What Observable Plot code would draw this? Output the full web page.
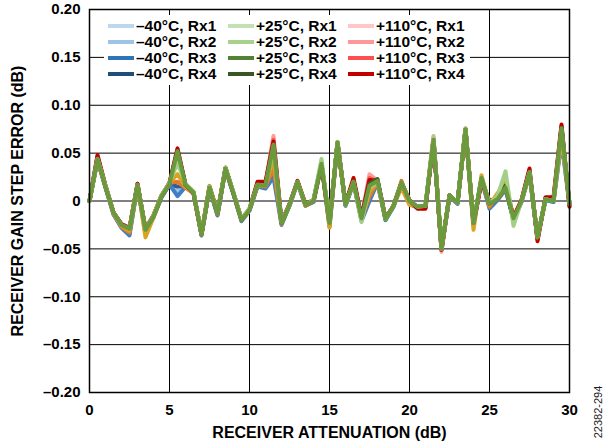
<!DOCTYPE html>
<html><head><meta charset="utf-8">
<script src="https://cdn.jsdelivr.net/npm/d3@7"></script>
<script src="https://cdn.jsdelivr.net/npm/@observablehq/plot@0.6"></script>
<style>
body{margin:0;background:#fff;font-family:"Liberation Sans",Arial,sans-serif;}
#wrap{position:relative;width:610px;height:446px;}
#legend{position:absolute;left:104px;top:15px;width:366px;height:70px;background:#fff;box-sizing:border-box;padding:3px 0 0 4px;
  display:grid;grid-template-columns:120px 120px 120px;grid-auto-rows:16px;grid-auto-flow:column;grid-template-rows:repeat(4,16px);}
.item{display:flex;align-items:center;font-weight:bold;font-size:15.5px;color:#000;white-space:nowrap;line-height:16px;}
.sw{width:26px;height:4px;margin-right:2px;flex:none;}
#code{position:absolute;left:598px;top:412px;transform:translate(-50%,-50%) rotate(-90deg);font-size:11px;color:#222;white-space:nowrap;}
</style></head>
<body><div id="wrap"><div id="chart"></div><div id="legend"></div><div id="code">22382-294</div></div>
<script>
const attenuation = [0,0.5,1,1.5,2,2.5,3,3.5,4,4.5,5,5.5,6,6.5,7,7.5,8,8.5,9,9.5,10,10.5,11,11.5,12,12.5,13,13.5,14,14.5,15,15.5,16,16.5,17,17.5,18,18.5,19,19.5,20,20.5,21,21.5,22,22.5,23,23.5,24,24.5,25,25.5,26,26.5,27,27.5,28,28.5,29,29.5,30];

const seriesNames = ["–40°C, Rx1","–40°C, Rx2","–40°C, Rx3","–40°C, Rx4","+25°C, Rx1","+25°C, Rx2","+25°C, Rx3","+25°C, Rx4","+110°C, Rx1","+110°C, Rx2","+110°C, Rx3","+110°C, Rx4"];
const legendColors = ["#bdd7ee","#9dc3e6","#2e75b6","#1f4e79","#c5e0b4","#a9d18e","#548235","#385723","#ffc7c7","#ff9999","#ff5050","#c00000"];
const plotColors = ["#9dc3e6","#3f7fc4","#e37a2b","#2f5f94","#d9a521","#a3cf86","#c5e0b4","#3d6128","#ff9c9c","#ff5a5a","#c00000","#6a9a3c"];
const drawOrder = [6,0,3,1,2,4,8,9,10,7,5,11];

const m40rx1 = [0.000,0.042,0.014,-0.014,-0.028,-0.035,0.016,-0.033,-0.017,0.004,
0.017,0.010,0.016,0.008,-0.036,0.013,-0.015,0.033,0.007,-0.021,
-0.010,0.016,0.014,0.030,-0.024,-0.005,0.019,-0.005,-0.001,0.038,
-0.026,0.060,-0.005,0.019,-0.020,0.003,0.019,-0.020,-0.006,0.018,
-0.002,-0.007,-0.006,0.063,-0.051,0.005,-0.003,0.074,-0.025,0.022,
-0.006,0.001,0.012,-0.019,-0.001,0.028,-0.039,0.001,-0.001,0.066,-0.004];
const m40rx2 = [0.000,0.043,0.014,-0.014,-0.028,-0.036,0.016,-0.034,-0.017,0.004,
0.017,0.005,0.015,0.008,-0.036,0.013,-0.015,0.033,0.007,-0.021,
-0.010,0.015,0.013,0.025,-0.025,-0.005,0.019,-0.005,-0.001,0.038,
-0.027,0.060,-0.005,0.019,-0.021,0.000,0.019,-0.020,-0.006,0.018,
-0.003,-0.007,-0.006,0.063,-0.051,0.005,-0.003,0.074,-0.026,0.022,
-0.008,0.001,0.012,-0.019,-0.001,0.028,-0.039,0.001,-0.001,0.062,-0.004];
const m40rx3 = [0.000,0.043,0.015,-0.013,-0.027,-0.033,0.016,-0.033,-0.016,0.005,
0.019,0.020,0.014,0.008,-0.035,0.014,-0.014,0.034,0.008,-0.020,
-0.009,0.016,0.015,0.035,-0.024,-0.004,0.020,-0.005,0.000,0.038,
-0.025,0.060,-0.004,0.020,-0.019,0.005,0.020,-0.019,-0.005,0.021,
-0.002,-0.006,-0.005,0.064,-0.050,0.006,-0.002,0.075,-0.024,0.023,
-0.006,0.006,0.015,-0.018,0.000,0.029,-0.038,0.002,0.000,0.070,-0.003];
const m40rx4 = [0.000,0.043,0.015,-0.013,-0.027,-0.032,0.016,-0.032,-0.016,0.004,
0.018,0.015,0.016,0.008,-0.035,0.014,-0.014,0.034,0.008,-0.020,
-0.009,0.016,0.015,0.040,-0.023,-0.004,0.020,-0.004,0.000,0.039,
-0.024,0.061,-0.004,0.020,-0.019,0.008,0.021,-0.019,-0.005,0.019,
-0.001,-0.006,-0.005,0.064,-0.050,0.006,-0.002,0.075,-0.024,0.023,
-0.005,0.003,0.013,-0.018,0.000,0.030,-0.038,0.002,0.000,0.072,-0.003];
const p25rx1 = [0.000,0.043,0.015,-0.013,-0.026,-0.031,0.017,-0.038,-0.017,0.005,
0.019,0.028,0.015,0.009,-0.034,0.016,-0.012,0.034,0.008,-0.020,
-0.009,0.016,0.017,0.045,-0.022,-0.004,0.020,-0.004,0.000,0.039,
-0.028,0.061,-0.004,0.020,-0.018,0.010,0.020,-0.019,-0.005,0.014,
-0.004,-0.006,-0.005,0.064,-0.050,0.006,-0.002,0.075,-0.030,0.027,
-0.004,0.008,0.020,-0.017,0.000,0.030,-0.038,0.002,0.000,0.066,-0.003];
const p25rx2 = [0.000,0.044,0.016,-0.012,-0.025,-0.029,0.017,-0.030,-0.015,0.006,
0.019,0.040,0.018,0.010,-0.034,0.015,-0.012,0.035,0.009,-0.019,
-0.008,0.017,0.016,0.055,-0.022,-0.004,0.020,-0.004,0.001,0.044,
-0.023,0.062,-0.004,0.020,-0.022,0.014,0.020,-0.019,-0.005,0.019,
0.000,-0.006,-0.005,0.067,-0.050,0.006,-0.002,0.076,-0.023,0.024,
-0.002,0.005,0.031,-0.026,0.000,0.030,-0.038,0.002,0.000,0.074,-0.003];
const p25rx3 = [0.000,0.044,0.015,-0.012,-0.025,-0.030,0.017,-0.031,-0.016,0.005,
0.018,0.048,0.017,0.009,-0.035,0.014,-0.013,0.034,0.008,-0.020,
-0.009,0.017,0.016,0.057,-0.023,-0.004,0.020,-0.004,0.000,0.040,
-0.023,0.061,-0.004,0.020,-0.019,0.015,0.021,-0.019,-0.005,0.019,
0.000,-0.006,-0.005,0.065,-0.050,0.006,-0.002,0.075,-0.023,0.024,
-0.003,0.003,0.020,-0.021,0.000,0.030,-0.038,0.002,0.000,0.075,-0.003];
const p25rx4 = [0.000,0.044,0.015,-0.012,-0.025,-0.029,0.017,-0.030,-0.016,0.005,
0.018,0.052,0.017,0.009,-0.035,0.014,-0.013,0.034,0.008,-0.020,
-0.009,0.017,0.016,0.058,-0.023,-0.004,0.020,-0.004,0.000,0.039,
-0.023,0.061,-0.004,0.020,-0.018,0.018,0.023,-0.019,-0.005,0.019,
0.000,-0.006,-0.005,0.064,-0.050,0.006,-0.002,0.075,-0.023,0.024,
-0.003,0.002,0.016,-0.021,0.000,0.030,-0.038,0.002,0.000,0.076,-0.003];
const p110rx1 = [0.000,0.047,0.016,-0.012,-0.025,-0.029,0.018,-0.030,-0.015,0.005,
0.018,0.050,0.017,0.009,-0.035,0.014,-0.013,0.034,0.008,-0.020,
-0.009,0.018,0.018,0.068,-0.022,-0.004,0.020,-0.004,0.000,0.039,
-0.023,0.062,-0.004,0.021,-0.017,0.028,0.021,-0.018,-0.005,0.019,
0.000,-0.006,-0.005,0.068,-0.053,0.006,-0.002,0.076,-0.023,0.022,
-0.002,0.002,0.014,-0.017,0.000,0.031,-0.039,0.003,0.001,0.078,-0.004];
const p110rx2 = [0.000,0.046,0.016,-0.012,-0.025,-0.029,0.018,-0.030,-0.015,0.005,
0.018,0.053,0.017,0.009,-0.035,0.014,-0.013,0.034,0.008,-0.020,
-0.009,0.019,0.019,0.064,-0.022,-0.004,0.020,-0.004,0.000,0.039,
-0.023,0.061,-0.004,0.022,-0.017,0.024,0.021,-0.018,-0.005,0.019,
0.000,-0.007,-0.007,0.065,-0.051,0.006,-0.002,0.075,-0.023,0.021,
-0.001,0.002,0.014,-0.017,0.001,0.032,-0.040,0.003,0.002,0.078,-0.005];
const p110rx3 = [0.000,0.048,0.016,-0.012,-0.024,-0.028,0.018,-0.029,-0.015,0.006,
0.019,0.055,0.017,0.009,-0.034,0.015,-0.012,0.035,0.008,-0.019,
-0.008,0.020,0.020,0.062,-0.022,-0.003,0.021,-0.003,0.001,0.039,
-0.022,0.061,-0.003,0.024,-0.017,0.022,0.021,-0.018,-0.005,0.019,
0.001,-0.008,-0.008,0.064,-0.051,0.006,-0.002,0.075,-0.023,0.020,
0.000,0.002,0.015,-0.017,0.001,0.034,-0.042,0.004,0.004,0.080,-0.006];
const p110rx4 = [0.000,0.044,0.015,-0.012,-0.025,-0.029,0.017,-0.030,-0.016,0.005,
0.018,0.052,0.017,0.009,-0.035,0.014,-0.013,0.034,0.008,-0.020,
-0.009,0.017,0.016,0.059,-0.023,-0.004,0.020,-0.004,0.000,0.039,
-0.023,0.061,-0.004,0.020,-0.018,0.016,0.021,-0.019,-0.005,0.019,
0.000,-0.006,-0.005,0.064,-0.050,0.006,-0.002,0.075,-0.023,0.024,
-0.003,0.002,0.014,-0.018,0.000,0.030,-0.038,0.002,0.000,0.076,-0.003];

const seriesValues = [m40rx1,m40rx2,m40rx3,m40rx4,p25rx1,p25rx2,p25rx3,p25rx4,p110rx1,p110rx2,p110rx3,p110rx4];
const xTicks = [0,5,10,15,20,25,30];
const yTicks = [-0.20,-0.15,-0.10,-0.05,0,0.05,0.10,0.15,0.20];

const rows = [];
for (const s of drawOrder) {
  seriesValues[s].forEach((v, i) => rows.push({x: attenuation[i], y: v, series: seriesNames[s]}));
}

const fmtY = d => d === 0 ? "0" : (d < 0 ? "–" : "") + Math.abs(d).toFixed(2);

const chart = Plot.plot({
  width: 610, height: 446,
  marginLeft: 89, marginRight: 41, marginTop: 9, marginBottom: 54,
  style: {fontFamily: "'Liberation Sans', Arial, sans-serif", fontSize: "15px", fontWeight: "bold", color: "#000", background: "#fff"},
  x: {domain: [0, 30]},
  y: {domain: [-0.2, 0.2]},
  color: {domain: seriesNames, range: plotColors},
  marks: [
    Plot.gridX(xTicks, {stroke: "#000", strokeOpacity: 1, strokeWidth: 1}),
    Plot.gridY(yTicks, {stroke: "#000", strokeOpacity: 1, strokeWidth: 1}),
    Plot.line(rows, {x: "x", y: "y", z: "series", stroke: "series", strokeWidth: 4, strokeLinejoin: "round", strokeLinecap: "round"}),
    Plot.frame({stroke: "#000", strokeWidth: 1.5}),
    Plot.axisX({ticks: xTicks, tickSize: 0, tickPadding: 12, tickFormat: d => String(d), label: "RECEIVER ATTENUATION (dB)", labelAnchor: "center", labelArrow: "none", labelOffset: 45}),
    Plot.axisY({ticks: yTicks, tickSize: 0, tickPadding: 9, tickFormat: fmtY, label: "RECEIVER GAIN STEP ERROR (dB)", labelAnchor: "center", labelArrow: "none", labelOffset: 78})
  ]
});
document.getElementById("chart").appendChild(chart);
d3.select(chart).selectAll('g[aria-label$="axis label"] text').style("font-size", "16px");

const legend = document.getElementById("legend");
seriesNames.forEach((name, i) => {
  const it = document.createElement("div");
  it.className = "item";
  it.innerHTML = `<span class="sw" style="background:${legendColors[i]}"></span><span>${name}</span>`;
  legend.appendChild(it);
});
</script>
</body></html>
